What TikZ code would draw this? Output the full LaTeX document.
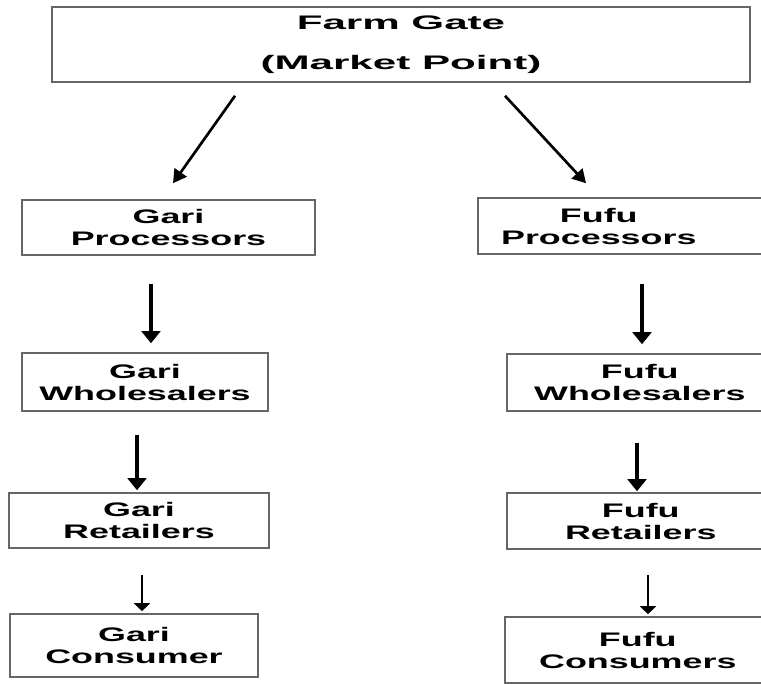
\documentclass[tikz,border=0pt]{standalone}
\usepackage{fontspec}
\usepackage{tikz}
\usetikzlibrary{arrows.meta}
\newfontfamily\widefont{Liberation Sans}[FakeStretch=1.83]
\newfontfamily\gatefont{Liberation Sans}[FakeStretch=2.15]

\begin{document}
\begin{tikzpicture}[x=0.75pt,y=-0.75pt]
\tikzset{box/.style={draw=black!60,line width=1.2pt,align=center,inner sep=0pt,
    font=\widefont\bfseries\fontsize{14.7}{16.5}\selectfont},
  txt/.style={align=center,inner sep=0pt,font=\widefont\bfseries\fontsize{14.7}{16.5}\selectfont},
  arr/.style={-{Triangle[width=14pt,length=9pt]},line width=2.4pt},
  slant/.style={-{Triangle[width=11pt,length=10pt]},line width=2pt},
  thin/.style={-{Triangle[width=12pt,length=6pt]},line width=1.2pt}}
\useasboundingbox (0,0) rectangle (761,684);

\node[box,minimum width=523.5pt,minimum height=56.25pt,
  font=\gatefont\bfseries\fontsize{14.7}{30}\selectfont] (gate) at (401,44.5) {Farm Gate\\(Market Point)};

\node[box,minimum width=219.75pt,minimum height=41.25pt] (gproc) at (168.5,227.5) {Gari\\Processors};
\node[box,minimum width=184.5pt,minimum height=43.5pt] (gwhole) at (145,382) {Gari\\Wholesalers};
\node[box,minimum width=195pt,minimum height=41.25pt] (gret) at (139,520.5) {Gari\\Retailers};
\node[box,minimum width=186pt,minimum height=47.25pt] (gcons) at (134,645.5) {Gari\\Consumer};

\node[box,anchor=west,minimum width=300pt,minimum height=42pt,
  label={[txt,xshift=-59.25pt]center:{Fufu\\Processors}}] (fproc) at (477,226) {};
\node[box,anchor=west,minimum width=300pt,minimum height=42.75pt,
  label={[txt,xshift=-50.25pt]center:{Fufu\\Wholesalers}}] (fwhole) at (506,382.5) {};
\node[box,anchor=west,minimum width=300pt,minimum height=42pt,
  label={[txt,xshift=-49.5pt]center:{Fufu\\Retailers}}] (fret) at (506,521) {};
\node[box,anchor=west,minimum width=300pt,minimum height=49.5pt,
  label={[txt,xshift=-50.25pt]center:{Fufu\\Consumers}}] (fcons) at (504,650) {};

\draw[slant] ([shift={(-166,13)}]gate.south) -- ([shift={(4.5,-16)}]gproc.north);
\draw[slant] ([shift={(104,13)}]gate.south) -- ([shift={(109,-14)}]fproc.north west);

\draw[arr] ([shift={(-17.5,28)}]gproc.south) -- ([shift={(6,-9)}]gwhole.north);
\draw[arr] ([shift={(-8,23)}]gwhole.south) -- ([shift={(-2,-2)}]gret.north);
\draw[thin] ([shift={(3,26)}]gret.south) -- ([shift={(8,-2)}]gcons.north);

\draw[arr] ([shift={(165,29)}]fproc.south west) -- ([shift={(136,-9)}]fwhole.north west);
\draw[arr] ([shift={(131,31)}]fwhole.south west) -- ([shift={(131,-1)}]fret.north west);
\draw[thin] ([shift={(142,25)}]fret.south west) -- ([shift={(144,-2)}]fcons.north west);
\end{tikzpicture}
\end{document}
